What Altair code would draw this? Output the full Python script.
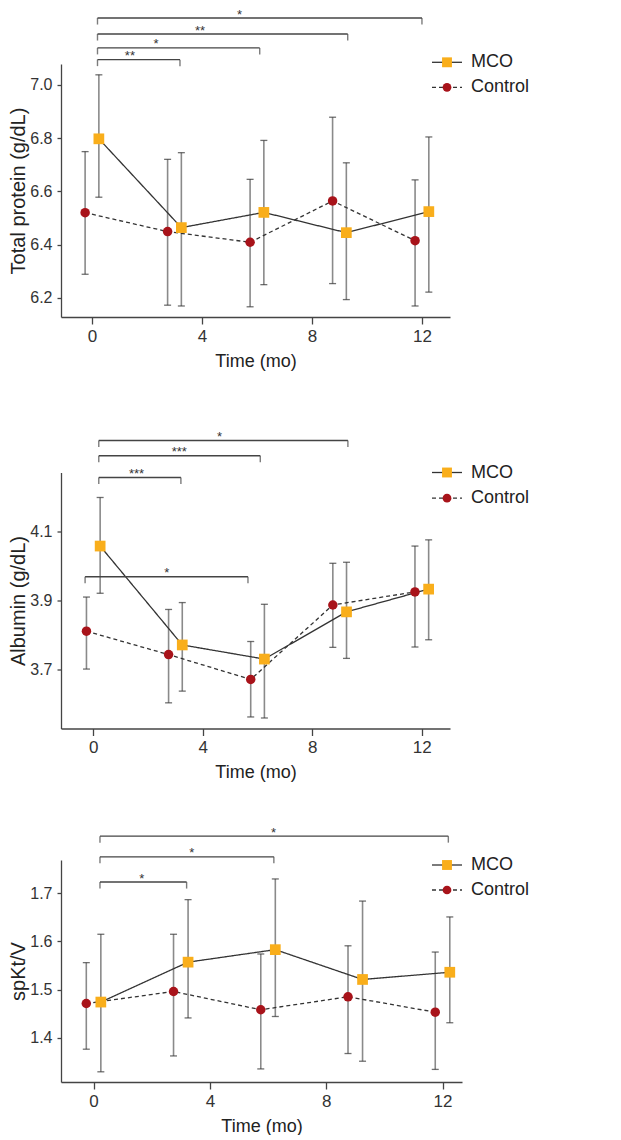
import altair as alt
import pandas as pd

# ---------------- data ----------------
TIMES = [0, 3, 6, 9, 12]
SERIES = ["MCO", "Control"]
X_SHIFT = {"MCO": 0.25, "Control": -0.25}

# Total protein (g/dL)
TP_MCO = [6.797, 6.464, 6.521, 6.445, 6.524]
TP_MCO_HI = [7.037, 6.745, 6.791, 6.707, 6.804]
TP_MCO_LO = [6.578, 6.170, 6.250, 6.194, 6.222]
TP_CTL = [6.520, 6.449, 6.409, 6.564, 6.415]
TP_CTL_HI = [6.749, 6.720, 6.645, 6.878, 6.643]
TP_CTL_LO = [6.289, 6.173, 6.167, 6.254, 6.170]

# Albumin (g/dL)
AL_MCO = [4.058, 3.771, 3.730, 3.867, 3.933]
AL_MCO_HI = [4.199, 3.894, 3.889, 4.011, 4.076]
AL_MCO_LO = [3.921, 3.637, 3.559, 3.732, 3.786]
AL_CTL = [3.811, 3.743, 3.671, 3.887, 3.925]
AL_CTL_HI = [3.910, 3.874, 3.781, 4.008, 4.058]
AL_CTL_LO = [3.701, 3.603, 3.562, 3.764, 3.765]

# spKt/V
KT_MCO = [1.474, 1.557, 1.583, 1.521, 1.536]
KT_MCO_HI = [1.615, 1.687, 1.730, 1.684, 1.651]
KT_MCO_LO = [1.329, 1.441, 1.444, 1.351, 1.431]
KT_CTL = [1.471, 1.496, 1.458, 1.485, 1.453]
KT_CTL_HI = [1.556, 1.615, 1.574, 1.591, 1.578]
KT_CTL_LO = [1.376, 1.362, 1.335, 1.367, 1.334]

# significance brackets: start, end, level (y units), label, label x
TP_BR_X1 = [0.2, 0.2, 0.2, 0.2]
TP_BR_X2 = [12.0, 9.3, 6.1, 3.2]
TP_BR_Y = [7.250, 7.190, 7.138, 7.094]
TP_BR_LABEL = ["*", "**", "*", "**"]
TP_BR_TX = [5.37, 3.93, 2.33, 1.38]

AL_BR_X1 = [0.2, 0.2, 0.2, -0.3]
AL_BR_X2 = [9.3, 6.1, 3.2, 5.65]
AL_BR_Y = [4.3645, 4.320, 4.257, 3.969]
AL_BR_LABEL = ["*", "***", "***", "*"]
AL_BR_TX = [4.61, 3.14, 1.58, 2.68]

KT_BR_X1 = [0.22, 0.22, 0.22]
KT_BR_X2 = [12.2, 6.2, 3.2]
KT_BR_Y = [1.819, 1.776, 1.7235]
KT_BR_LABEL = ["*", "*", "*"]
KT_BR_TX = [6.19, 3.38, 1.66]

# ---------------- styling ----------------
FONT = "Liberation Sans"
COLORS = {"MCO": "#F9AE1B", "Control": "#A8131A"}
SHAPES = {"MCO": "square", "Control": "circle"}
SIZES = {"MCO": 115, "Control": 90}
DASHES = {"MCO": [1, 0], "Control": [4, 3]}
INK = "#333333"


def make_df(mco, mco_lo, mco_hi, ctl, ctl_lo, ctl_hi):
    rows = []
    for s, m, lo, hi in [("MCO", mco, mco_lo, mco_hi), ("Control", ctl, ctl_lo, ctl_hi)]:
        for t, a, b, c in zip(TIMES, m, lo, hi):
            rows.append({"series": s, "time": t, "x": t + X_SHIFT[s],
                         "mean": a, "lo": b, "hi": c})
    return pd.DataFrame(rows)


def make_br(x1, x2, y, label, tx):
    return pd.DataFrame({"x1": x1, "x2": x2, "y": y, "label": label, "tx": tx})


def panel(df, br, ytitle, ydom, yvals, xdom, w, h, leg_y, spacer=None):
    xscale = alt.Scale(domain=xdom, nice=False, zero=False)
    yscale = alt.Scale(domain=ydom, nice=False, zero=False)
    xaxis = alt.Axis(values=[0, 4, 8, 12], format="d", title="Time (mo)",
                     tickSize=7, labelPadding=4, titlePadding=8)
    yaxis = alt.Axis(values=yvals, format=".1f", title=ytitle, tickSize=4,
                     labelPadding=5, titlePadding=1, titleFontSize=20, labelFontSize=16)

    def X(f):
        return alt.X(f, type="quantitative", scale=xscale, axis=xaxis)

    def Y(f):
        return alt.Y(f, type="quantitative", scale=yscale, axis=yaxis)

    base = alt.Chart(df)
    err = base.mark_rule(color="#8a8a8a", strokeWidth=1.6).encode(
        x=X("x"), y=Y("lo"), y2="hi")
    cap_lo = base.mark_tick(orient="horizontal", size=7, thickness=1.3, color=INK).encode(
        x=X("x"), y=Y("lo"))
    cap_hi = base.mark_tick(orient="horizontal", size=7, thickness=1.3, color=INK).encode(
        x=X("x"), y=Y("hi"))
    line = base.mark_line(color=INK, strokeWidth=1.3).encode(
        x=X("x"), y=Y("mean"),
        strokeDash=alt.StrokeDash("series:N", scale=alt.Scale(
            domain=SERIES, range=[DASHES[s] for s in SERIES]), legend=None))
    pts = base.mark_point(filled=True, opacity=1).encode(
        x=X("x"), y=Y("mean"),
        shape=alt.Shape("series:N", scale=alt.Scale(domain=SERIES, range=[SHAPES[s] for s in SERIES]), legend=None),
        color=alt.Color("series:N", scale=alt.Scale(domain=SERIES, range=[COLORS[s] for s in SERIES]), legend=None),
        size=alt.Size("series:N", scale=alt.Scale(domain=SERIES, range=[SIZES[s] for s in SERIES]), legend=None))

    bb = alt.Chart(br)
    br_line = bb.mark_rule(color="#444444", strokeWidth=1.4).encode(
        x=X("x1"), x2="x2", y=Y("y"))
    br_end1 = bb.mark_tick(orient="vertical", size=6.5, yOffset=3.25, thickness=1.4,
                           color="#444444").encode(x=X("x1"), y=Y("y"))
    br_end2 = bb.mark_tick(orient="vertical", size=6.5, yOffset=3.25, thickness=1.4,
                           color="#444444").encode(x=X("x2"), y=Y("y"))
    br_txt = bb.mark_text(font=FONT, fontSize=13, color=INK, baseline="alphabetic",
                          align="center", dy=0.5).encode(x=X("tx"), y=Y("y"), text="label:N")

    layers = [err, cap_lo, cap_hi, line, pts, br_line, br_end1, br_end2, br_txt]

    for s, ly in zip(SERIES, leg_y):
        d = pd.DataFrame({"series": [s]})
        rule_kw = dict(color=INK, strokeWidth=1.3)
        if s == "Control":
            rule_kw["strokeDash"] = DASHES[s]
        layers.append(alt.Chart(d).mark_rule(**rule_kw).encode(
            x=alt.value(371), x2=alt.value(401), y=alt.value(ly)))
        layers.append(alt.Chart(d).mark_point(filled=True, opacity=1, shape=SHAPES[s],
                                              size=SIZES[s] * 0.85, color=COLORS[s]).encode(
            x=alt.value(386), y=alt.value(ly)))
        layers.append(alt.Chart(d).mark_text(font=FONT, fontSize=18, color="#222222",
                                             align="left", baseline="middle").encode(
            x=alt.value(410), y=alt.value(ly), text="series:N"))

    if spacer is not None:
        d = pd.DataFrame({"series": ["spacer"]})
        layers.append(alt.Chart(d).mark_rule(opacity=0, strokeOpacity=0).encode(
            x=alt.value(0), x2=alt.value(1), y=alt.value(spacer)))

    return alt.layer(*layers).properties(width=w, height=h)


p1 = panel(make_df(TP_MCO, TP_MCO_LO, TP_MCO_HI, TP_CTL, TP_CTL_LO, TP_CTL_HI),
           make_br(TP_BR_X1, TP_BR_X2, TP_BR_Y, TP_BR_LABEL, TP_BR_TX),
           "Total protein (g/dL)", [6.1287, 7.0776], [6.2, 6.4, 6.6, 6.8, 7.0],
           [-1.127, 13.02], 389, 253, [-1.7, 23.3], spacer=321.5)
p2 = panel(make_df(AL_MCO, AL_MCO_LO, AL_MCO_HI, AL_CTL, AL_CTL_LO, AL_CTL_HI),
           make_br(AL_BR_X1, AL_BR_X2, AL_BR_Y, AL_BR_LABEL, AL_BR_TX),
           "Albumin (g/dL)", [3.5285, 4.2715], [3.7, 3.9, 4.1],
           [-1.18, 13.03], 389, 256, [0, 25.7])
p3 = panel(make_df(KT_MCO, KT_MCO_LO, KT_MCO_HI, KT_CTL, KT_CTL_LO, KT_CTL_HI),
           make_br(KT_BR_X1, KT_BR_X2, KT_BR_Y, KT_BR_LABEL, KT_BR_TX),
           "spKt/V", [1.3078, 1.7694], [1.4, 1.5, 1.6, 1.7],
           [-1.12, 12.67], 401, 222, [5, 30])

chart = alt.vconcat(p1, p2, p3, spacing=44.5).properties(
    padding={"top": 0, "left": 0, "right": 5, "bottom": 0}
).configure_view(stroke=None).configure_axis(
    grid=False, domainColor="#444444", tickColor="#444444", domainWidth=1.3, tickWidth=1.3,
    labelColor=INK, titleColor="#222222", labelFont=FONT, titleFont=FONT,
    titleFontWeight="normal", labelFontSize=17, titleFontSize=18,
)

chart.save("out.html", embed_options={"renderer": "svg", "actions": False})
